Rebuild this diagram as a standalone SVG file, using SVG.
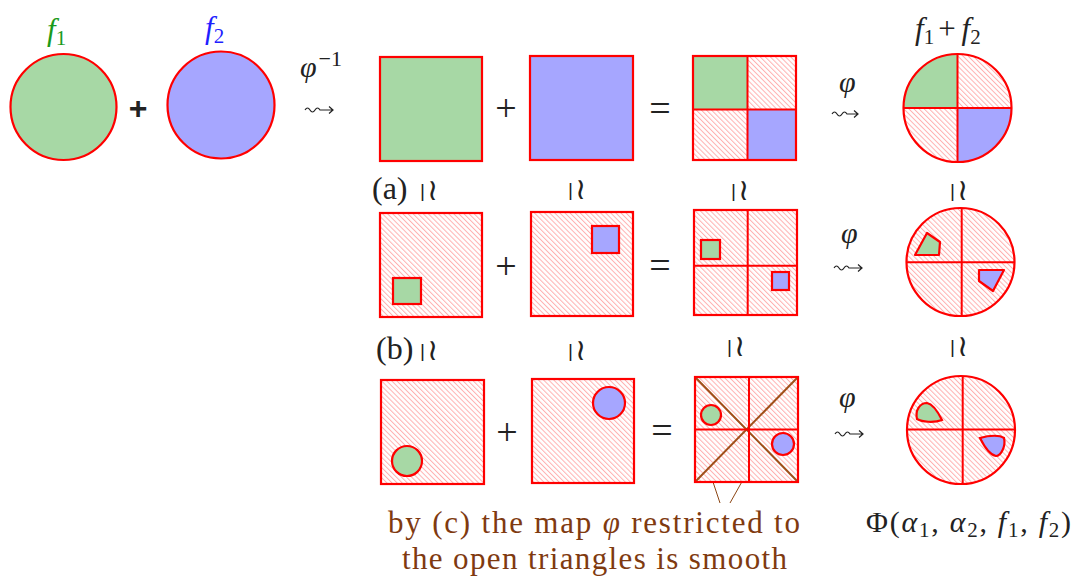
<svg xmlns="http://www.w3.org/2000/svg" width="1075" height="579" viewBox="0 0 1075 579">
<style>
.g{fill:#A7D8A5}
.b{fill:#A6A6FF}
.h{fill:url(#hatch)}
.rs{stroke:#FF0000;stroke-width:2.2}
.rl{stroke:#FF0000;stroke-width:2;fill:none}
.br{stroke:#A0501A;stroke-width:2;fill:none}
.pt{stroke:#8B4513;stroke-width:1;fill:none}
.sq{stroke:#222;stroke-width:1.2;fill:none}
.m{font-family:'Liberation Serif',serif;fill:#222}
.it{font-style:italic}
.cap{font-family:'Liberation Serif',serif;fill:#7F3A10;font-size:31px}
.bar{font-family:'Liberation Sans',sans-serif;fill:#222;font-size:19px}
.wr{font-family:'DejaVu Sans',sans-serif;fill:#222;font-size:30px}
</style>
<defs>
<pattern id="hatch" width="3.6" height="3.6" patternUnits="userSpaceOnUse" patternTransform="rotate(-45)">
<rect x="0" y="0" width="3.6" height="3.6" fill="#ffffff"/>
<rect x="0" y="0" width="1" height="3.6" fill="#FFB0B0"/>
</pattern>
</defs>

<g id="labels-top">
<text class="m it" x="47" y="40" font-size="31" style="fill:#1A9A1A">f<tspan font-style="normal" font-size="21" dy="5">1</tspan></text>
<text class="m it" x="205" y="38" font-size="31" style="fill:#1F1FFF">f<tspan font-style="normal" font-size="21" dy="5">2</tspan></text>
<text class="m" x="915" y="39" font-size="31"><tspan font-style="italic">f</tspan><tspan font-size="21" dy="5">1</tspan><tspan dy="-5" dx="4">+</tspan><tspan font-style="italic" dx="6">f</tspan><tspan font-size="21" dy="5">2</tspan></text>
</g>

<g id="circle-f1"><circle cx="63.5" cy="107" r="53" class="g rs"/></g>
<g id="plus-bold"><text x="138" y="119" font-family="'Liberation Sans',sans-serif" font-weight="bold" font-size="32" text-anchor="middle" fill="#222">+</text></g>
<g id="circle-f2"><circle cx="221" cy="105" r="53.5" class="b rs"/></g>

<g id="phi-inv">
<text class="m" x="300" y="77" font-size="30"><tspan font-style="italic">φ</tspan><tspan font-size="22" dy="-11" dx="2">−1</tspan></text>
</g>

<g id="connectors">
<path class="sq" d="M305,110 q2.5,-4 5,0 t5,0 t5,0 l13,0 M329,106.5 l4,3.5 l-4,3.5"/>
<path class="sq" d="M832,114 q2.5,-4 5,0 t5,0 t5,0 l11,0 M854,110.5 l4,3.5 l-4,3.5"/>
<path class="sq" d="M834,268 q2.5,-4 5,0 t5,0 t5,0 l13,0 M858,264.5 l4,3.5 l-4,3.5"/>
<path class="sq" d="M835,434 q2.5,-4 5,0 t5,0 t5,0 l13,0 M859,430.5 l4,3.5 l-4,3.5"/>
<path class="pt" d="M720,503 L704,455 M730,503 L767,437"/>
</g>

<g id="phi-labels">
<text class="m it" x="839" y="92" font-size="30">φ</text>
<text class="m it" x="841" y="243" font-size="30">φ</text>
<text class="m it" x="839" y="407" font-size="30">φ</text>
</g>

<g id="ops">
<text class="m" x="506" y="121" font-size="38" text-anchor="middle">+</text>
<text class="m" x="660" y="121" font-size="38" text-anchor="middle">=</text>
<text class="m" x="506" y="279" font-size="38" text-anchor="middle">+</text>
<text class="m" x="660" y="278" font-size="38" text-anchor="middle">=</text>
<text class="m" x="507" y="445" font-size="38" text-anchor="middle">+</text>
<text class="m" x="662" y="443" font-size="38" text-anchor="middle">=</text>
</g>

<g id="row1-sq-f1"><rect x="380" y="57" width="102" height="104" class="g rs"/></g>
<g id="row1-sq-f2"><rect x="530" y="56" width="103" height="104" class="b rs"/></g>
<g id="row1-sum">
<rect x="693" y="56" width="103" height="104" class="h"/>
<rect x="693" y="56" width="54.5" height="53.5" class="g"/>
<rect x="747.5" y="109.5" width="48.5" height="50.5" class="b"/>
<path class="rl" d="M747.5,56 V160 M693,109.5 H796"/>
<rect x="693" y="56" width="103" height="104" class="rl" style="stroke-width:2.2"/>
</g>
<g id="row1-disc">
<circle cx="957.5" cy="108" r="54" class="h"/>
<path class="g" d="M957.5,108 L903.5,108 A54,54 0 0 1 957.5,54 Z"/>
<path class="b" d="M957.5,108 L1011.5,108 A54,54 0 0 1 957.5,162 Z"/>
<path class="rl" d="M957.5,54 V162 M903.5,108 H1011.5"/>
<circle cx="957.5" cy="108" r="54" class="rl" style="stroke-width:2.2"/>
</g>

<g id="iso1">
<text class="m" x="372" y="199" font-size="32">(a)</text>
<text class="bar" x="420" y="197">|</text><text class="wr" x="427" y="200">≀</text>
<text class="bar" x="568" y="196">|</text><text class="wr" x="575" y="199">≀</text>
<text class="bar" x="731" y="197">|</text><text class="wr" x="738" y="200">≀</text>
<text class="bar" x="950" y="197">|</text><text class="wr" x="957" y="200">≀</text>
</g>

<g id="row2-f1">
<rect x="380" y="213" width="102" height="104" class="h rs"/>
<rect x="393" y="278" width="28" height="26" class="g rs"/>
</g>
<g id="row2-f2">
<rect x="531" y="212" width="102" height="104" class="h rs"/>
<rect x="592" y="226" width="27" height="27" class="b rs"/>
</g>
<g id="row2-sum">
<rect x="694" y="210" width="103" height="105" class="h rs"/>
<path class="rl" d="M747.7,210 V315 M694,265.7 H797"/>
<rect x="701" y="240" width="19" height="19" class="g rs"/>
<rect x="772" y="272" width="17" height="18" class="b rs"/>
</g>
<g id="row2-disc">
<circle cx="960.5" cy="262" r="54" class="h rs"/>
<path class="rl" d="M961.7,208 V316 M906.5,262.3 H1014.5"/>
<polygon points="915,255 927,233 940,242 939,255" class="g rs" stroke-linejoin="round"/>
<polygon points="979,270 1004,270 993,291 979,281" class="b rs" stroke-linejoin="round"/>
</g>

<g id="iso2">
<text class="m" x="376" y="359" font-size="32">(b)</text>
<text class="bar" x="420" y="357">|</text><text class="wr" x="427" y="360">≀</text>
<text class="bar" x="568" y="357">|</text><text class="wr" x="575" y="360">≀</text>
<text class="bar" x="727" y="353">|</text><text class="wr" x="734" y="356">≀</text>
<text class="bar" x="950" y="353">|</text><text class="wr" x="957" y="356">≀</text>
</g>

<g id="row3-f1">
<rect x="381" y="380" width="103" height="104" class="h rs"/>
<circle cx="407" cy="461" r="15" class="g rs"/>
</g>
<g id="row3-f2">
<rect x="532" y="379" width="102" height="104" class="h rs"/>
<circle cx="609" cy="403" r="16" class="b rs"/>
</g>
<g id="row3-sum">
<rect x="695" y="377" width="103" height="105" class="h"/>
<path class="br" d="M695,377 L798,482 M695,482 L798,377"/>
<path class="rl" d="M749,377 V482 M695,429.5 H798"/>
<rect x="695" y="377" width="103" height="105" class="rl" style="stroke-width:2.2"/>
<circle cx="711" cy="415" r="10" class="g rs"/>
<circle cx="783" cy="444" r="11" class="b rs"/>
</g>
<g id="row3-disc">
<circle cx="961" cy="430" r="54" class="h rs"/>
<path class="rl" d="M962.7,376 V484 M907,429.5 H1015"/>
<path class="g rs" d="M917,419 C915,410 920,403 927,403 C933,404 938,412 942,420 C934,423 922,422 917,419 Z"/>
<path class="b rs" d="M980,438 C990,435 1000,435 1004,438 C1006,446 1001,456 996,456 C990,455 984,446 980,438 Z"/>
</g>

<g id="result-label">
<text class="m" x="866" y="532" font-size="30" textLength="205">Φ(<tspan font-style="italic">α</tspan><tspan font-size="21" dy="5">1</tspan><tspan dy="-5">, </tspan><tspan font-style="italic">α</tspan><tspan font-size="21" dy="5">2</tspan><tspan dy="-5">, </tspan><tspan font-style="italic">f</tspan><tspan font-size="21" dy="5">1</tspan><tspan dy="-5">, </tspan><tspan font-style="italic">f</tspan><tspan font-size="21" dy="5">2</tspan><tspan dy="-5">)</tspan></text>
</g>

<g id="caption">
<text class="cap" x="388" y="533" textLength="412">by (c) the map <tspan font-style="italic">φ</tspan> restricted to</text>
<text class="cap" x="402" y="569" textLength="385">the open triangles is smooth</text>
</g>
</svg>
